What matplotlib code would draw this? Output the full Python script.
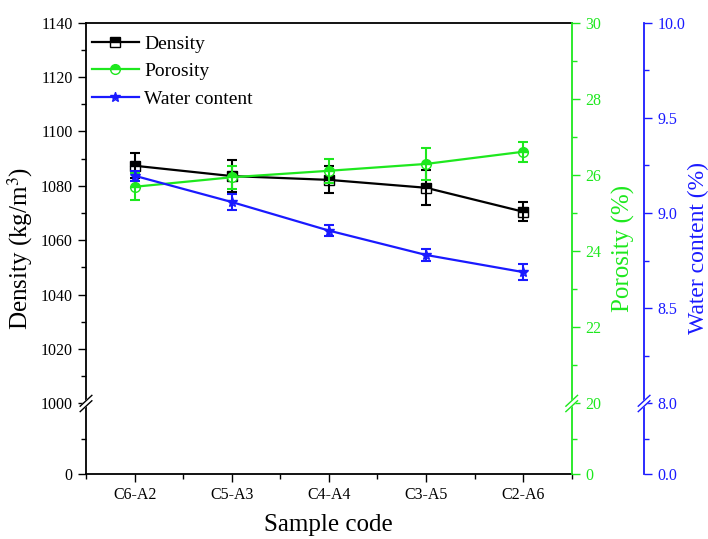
import numpy as np
import matplotlib
matplotlib.use("Agg")
import matplotlib.pyplot as plt
from matplotlib.ticker import FixedLocator

plt.rcParams['font.family'] = ['Liberation Serif', 'DejaVu Serif']
plt.rcParams['mathtext.fontset'] = 'stix'

# data
samples = ["C6-A2", "C5-A3", "C4-A4", "C3-A5", "C2-A6"]
density = [1087.4, 1083.6, 1082.2, 1079.3, 1070.5]
density_err = [4.5, 6.0, 5.0, 6.5, 3.5]
porosity = [25.69, 25.94, 26.11, 26.29, 26.61]
porosity_err = [0.35, 0.30, 0.32, 0.42, 0.26]
water = [9.196, 9.058, 8.908, 8.78, 8.69]
water_err = [0.025, 0.04, 0.03, 0.033, 0.04]

GREEN = '#1ee81e'
BLUE = '#1a1aff'
BREAK_FRAC = 0.1553  # share of axis height below the break


def broken_scale(ax, brk, top):
    # compress 0..brk into the bottom part, keep brk..top linear above it
    low = BREAK_FRAC / (1 - BREAK_FRAC) * (top - brk)

    def fwd(y):
        y = np.asarray(y, dtype=float)
        return np.where(y < brk, y / brk * low, low + (y - brk))

    def inv(u):
        u = np.asarray(u, dtype=float)
        return np.where(u < low, u / low * brk, brk + (u - low))

    ax.set_yscale('function', functions=(fwd, inv))
    ax.set_ylim(0, top)


def draw_break(ax, xpos, color):
    t = ax.transAxes
    y0 = BREAK_FRAC
    dx, dy, gap = 0.012, 0.012, 0.006
    ax.fill([xpos - dx, xpos + dx, xpos + dx, xpos - dx],
            [y0 - dy - gap, y0 + dy - gap, y0 + dy + gap, y0 - dy + gap],
            color='white', transform=t, clip_on=False, zorder=10)
    for off in (-gap, gap):
        ax.plot([xpos - dx, xpos + dx], [y0 - dy + off, y0 + dy + off],
                color=color, lw=1.0, transform=t, clip_on=False, zorder=11)


fig = plt.figure(figsize=(7.08, 5.39), dpi=100)
ax = fig.add_axes([0.1215, 0.1215, 0.686, 0.8365])
ax2 = ax.twinx()
ax3 = ax.twinx()
ax3.spines['right'].set_position(('axes', 1.149))

x = np.arange(len(samples))
mk = dict(fillstyle='top', markersize=7, markeredgewidth=1.0)

l1, = ax.plot(x, density, '-s', color='black', lw=1.6,
              markerfacecoloralt='white', label='Density', **mk)
ax.errorbar(x, density, yerr=density_err, fmt='none', ecolor='black',
            elinewidth=1.5, capsize=3.5, capthick=1.5)

l2, = ax2.plot(x, porosity, '-o', color=GREEN, lw=1.6,
               markerfacecoloralt='white', label='Porosity', **mk)
ax2.errorbar(x, porosity, yerr=porosity_err, fmt='none', ecolor=GREEN,
             elinewidth=1.5, capsize=3.5, capthick=1.5)

l3, = ax3.plot(x, water, '-*', color=BLUE, lw=1.6,
               markerfacecoloralt='white', label='Water content', **mk)
ax3.errorbar(x, water, yerr=water_err, fmt='none', ecolor=BLUE,
             elinewidth=1.5, capsize=3.5, capthick=1.5)

broken_scale(ax, 1000, 1140)
broken_scale(ax2, 20, 30)
broken_scale(ax3, 8.0, 10.0)

ax.set_xlim(-0.5, 4.5)
ax.set_xticks(x)
ax.set_xticklabels(samples)
ax.xaxis.set_minor_locator(FixedLocator(np.arange(-0.5, 5, 1.0)))

ax.yaxis.set_major_locator(FixedLocator([0] + list(range(1000, 1141, 20))))
ax.yaxis.set_minor_locator(FixedLocator([500] + list(range(1010, 1140, 20))))
ax.set_yticklabels(['0'] + [str(v) for v in range(1000, 1141, 20)])

ax2.yaxis.set_major_locator(FixedLocator([0, 20, 22, 24, 26, 28, 30]))
ax2.yaxis.set_minor_locator(FixedLocator([10, 21, 23, 25, 27, 29]))
ax2.set_yticklabels(['0', '20', '22', '24', '26', '28', '30'])

ax3.yaxis.set_major_locator(FixedLocator([0, 8.0, 8.5, 9.0, 9.5, 10.0]))
ax3.yaxis.set_minor_locator(FixedLocator([4.0, 8.25, 8.75, 9.25, 9.75]))
ax3.set_yticklabels(['0.0', '8.0', '8.5', '9.0', '9.5', '10.0'])

for a in (ax, ax2, ax3):
    a.tick_params(which='major', direction='out', length=6, width=1.0, labelsize=11.5)
    a.tick_params(which='minor', direction='out', length=3.5, width=1.0)

ax.spines['right'].set_visible(False)
for s in ('top', 'bottom', 'left'):
    ax.spines[s].set_linewidth(1.3)
ax2.spines['right'].set_color(GREEN)
ax2.spines['right'].set_linewidth(1.3)
ax2.tick_params(axis='y', which='both', colors=GREEN)
ax3.spines['right'].set_color(BLUE)
ax3.spines['right'].set_linewidth(1.3)
ax3.tick_params(axis='y', which='both', colors=BLUE)
for a in (ax2, ax3):
    for s in ('top', 'bottom', 'left'):
        a.spines[s].set_visible(False)

ax.set_xlabel('Sample code', fontsize=18, labelpad=8)
ax.set_ylabel('Density (kg/m$^{3}$)', fontsize=18, labelpad=4)
ax2.set_ylabel('Porosity (%)', fontsize=18, color=GREEN, labelpad=8)
ax3.set_ylabel('Water content (%)', fontsize=17, color=BLUE, labelpad=2)

draw_break(ax, 0.0, 'black')
draw_break(ax2, 1.0, GREEN)
draw_break(ax3, 1.149, BLUE)

ax.legend(handles=[l1, l2, l3], loc='upper left', frameon=False, fontsize=14,
          handlelength=2.4, handletextpad=0.3, labelspacing=0.5,
          borderpad=0.3, borderaxespad=0.0, bbox_to_anchor=(0.0, 0.985))

fig.savefig('out.png', dpi=100)
